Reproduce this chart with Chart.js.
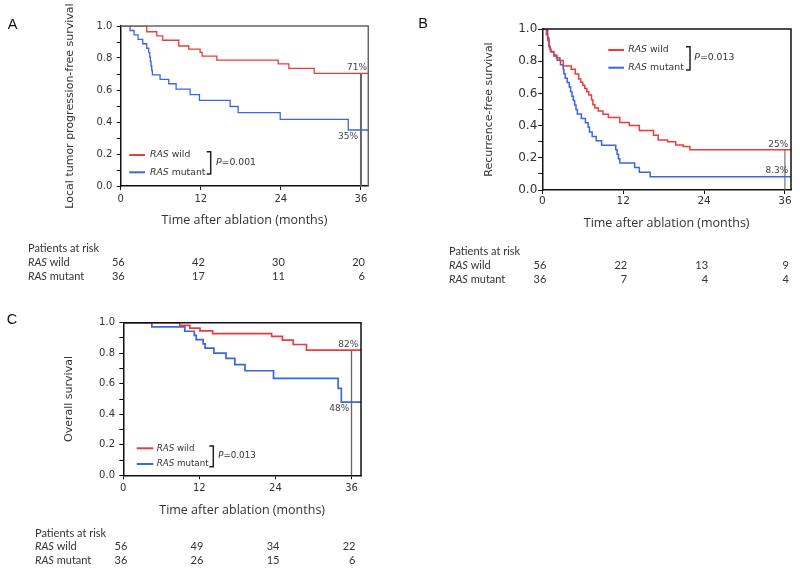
<!DOCTYPE html>
<html>
<head>
<meta charset="utf-8">
<script src="https://cdn.jsdelivr.net/npm/chart.js@4.4.1/dist/chart.umd.min.js"></script>
<style>
  html, body { margin: 0; padding: 0; background: #fff; }
  #wrap { position: relative; width: 800px; height: 571px; }
  canvas { position: absolute; }
</style>
</head>
<body>
<div id="wrap">
  <canvas id="chartA" width="400" height="300" style="left:0;top:0"></canvas>
  <canvas id="chartB" width="400" height="300" style="left:400px;top:0"></canvas>
  <canvas id="chartC" width="400" height="271" style="left:0;top:300px"></canvas>
</div>
<script>
// time points (months) and Kaplan-Meier survival after each step
const aWildTime = [0, 3.9, 5.4, 6.3, 8.7, 10.2, 11.9, 12.2, 14.4, 23.6, 25.2, 29.0, 37.1];
const aWildSurv = [1, 0.964, 0.938, 0.911, 0.875, 0.855, 0.835, 0.812, 0.787, 0.763, 0.735, 0.704, 0.704];
const aMutTime = [0, 1.4, 2.0, 2.6, 3.3, 3.9, 4.2, 4.35, 4.45, 4.55, 4.65, 4.75, 5.9, 7.2, 8.3, 10.4, 11.8, 16.4, 17.6, 23.9, 34.1, 37.1];
const aMutSurv = [1, 0.972, 0.944, 0.917, 0.889, 0.861, 0.833, 0.806, 0.778, 0.75, 0.722, 0.694, 0.667, 0.639, 0.606, 0.571, 0.535, 0.497, 0.459, 0.417, 0.35, 0.35];

const bWildTime = [0, 0.6, 0.8, 1.0, 1.15, 1.3, 1.7, 2.1, 2.6, 3.1, 4.3, 4.9, 5.4, 5.7, 6.0, 6.3, 6.6, 6.9, 7.3, 7.5, 7.8, 8.3, 9.0, 9.8, 11.5, 12.9, 14.4, 16.5, 17.2, 18.6, 19.8, 20.9, 21.9, 36.9];
const bWildSurv = [1, 0.964, 0.929, 0.893, 0.875, 0.857, 0.839, 0.821, 0.804, 0.77, 0.75, 0.72, 0.69, 0.67, 0.65, 0.63, 0.61, 0.59, 0.56, 0.53, 0.51, 0.49, 0.47, 0.45, 0.42, 0.40, 0.37, 0.34, 0.31, 0.30, 0.28, 0.27, 0.25, 0.25];
const bMutTime = [0, 0.8, 1.0, 1.2, 1.7, 2.2, 2.7, 3.1, 3.2, 3.4, 3.7, 4.0, 4.2, 4.4, 4.6, 4.8, 5.0, 5.2, 5.8, 6.4, 6.8, 7.0, 7.4, 8.0, 8.8, 10.9, 11.1, 11.3, 11.5, 13.7, 14.4, 16.0, 36.9];
const bMutSurv = [1, 0.944, 0.889, 0.861, 0.833, 0.806, 0.778, 0.75, 0.722, 0.694, 0.667, 0.639, 0.611, 0.583, 0.556, 0.528, 0.50, 0.472, 0.444, 0.417, 0.389, 0.361, 0.333, 0.306, 0.278, 0.25, 0.222, 0.194, 0.167, 0.139, 0.111, 0.083, 0.083];

const cWildTime = [0, 8.9, 10.5, 12.1, 14.1, 23.4, 25.1, 26.8, 28.9, 37.5];
const cWildSurv = [1, 0.982, 0.964, 0.946, 0.929, 0.911, 0.886, 0.857, 0.82, 0.82];
const cMutTime = [0, 4.5, 9.7, 11.2, 11.5, 12.6, 12.9, 14.3, 16.2, 17.6, 19.2, 23.7, 33.9, 34.4, 37.5];
const cMutSurv = [1, 0.972, 0.944, 0.917, 0.889, 0.861, 0.833, 0.80, 0.766, 0.725, 0.685, 0.635, 0.57, 0.48, 0.48];

// patients at risk, read at the x ticks
const riskTimes = [0, 12, 24, 36];
const aRiskWild = [56, 42, 30, 20];
const aRiskMut = [36, 17, 11, 6];
const bRiskWild = [56, 22, 13, 9];
const bRiskMut = [36, 7, 4, 4];
const cRiskWild = [56, 49, 34, 22];
const cRiskMut = [36, 26, 15, 6];

const yTicks = [0, 0.1, 0.2, 0.3, 0.4, 0.5, 0.6, 0.7, 0.8, 0.9, 1.0];

const RED = '#ec3b3b';
const BLUE = '#3d63e6';
const SANS = "'DejaVu Sans', sans-serif";
const CAL = "Lato, 'Open Sans', sans-serif";
const TITLE = "'Open Sans', Lato, sans-serif";

const steps = (times, surv) => times.map((t, i) => ({x: t, y: surv[i]}));

function richText(ctx, x, y, parts, size, family) {
    ctx.textAlign = 'left';
    for (const [txt, italic] of parts) {
        ctx.font = (italic ? 'italic ' : '') + size + 'px ' + family;
        ctx.fillText(txt, x, y);
        x += ctx.measureText(txt).width;
    }
}

function extras(p) {
    return {
        id: 'km-extras',
        afterDraw(chart) {
            const {ctx, chartArea: a, scales: {x, y}} = chart;
            ctx.save();
            // top/right frame
            ctx.strokeStyle = p.frameColor;
            ctx.lineWidth = 1.5;
            ctx.beginPath();
            ctx.moveTo(a.left, a.top);
            ctx.lineTo(a.right, a.top);
            ctx.lineTo(a.right, a.bottom);
            ctx.stroke();

            // survival at 36 months
            ctx.fillStyle = '#444';
            ctx.font = '9px ' + SANS;
            ctx.textAlign = 'right';
            ctx.textBaseline = 'middle';
            p.pct.forEach(l => ctx.fillText(l.text, a.right + l.dx, y.getPixelForValue(l.value) + l.dy));

            // legend + bracket + p value
            const g = p.legend;
            ctx.lineWidth = 2;
            ctx.strokeStyle = RED;
            ctx.beginPath(); ctx.moveTo(g.lx1, g.yW); ctx.lineTo(g.lx2, g.yW); ctx.stroke();
            ctx.strokeStyle = BLUE;
            ctx.beginPath(); ctx.moveTo(g.lx1, g.yM); ctx.lineTo(g.lx2, g.yM); ctx.stroke();
            ctx.fillStyle = '#333';
            richText(ctx, g.tx, g.yW, [['RAS', true], [' wild', false]], p.legendSize, SANS);
            richText(ctx, g.tx, g.yM, [['RAS', true], [' mutant', false]], p.legendSize, SANS);
            ctx.strokeStyle = '#222';
            ctx.lineWidth = 1.5;
            ctx.beginPath();
            ctx.moveTo(g.bx - 4, g.bTop); ctx.lineTo(g.bx, g.bTop);
            ctx.lineTo(g.bx, g.bBot); ctx.lineTo(g.bx - 4, g.bBot);
            ctx.stroke();
            richText(ctx, g.px, g.py, [['P', true], ['=' + p.pValue, false]], p.legendSize, SANS);

            // patients at risk table
            const r = p.risk;
            ctx.fillStyle = '#333';
            ctx.textAlign = 'left';
            ctx.font = '11px ' + CAL;
            ctx.fillText('Patients at risk', r.x, r.rows[0]);
            richText(ctx, r.x, r.rows[1], [['RAS', true], [' wild', false]], 11, CAL);
            richText(ctx, r.x, r.rows[2], [['RAS', true], [' mutant', false]], 11, CAL);
            ctx.font = '11px ' + CAL;
            ctx.textAlign = 'right';
            riskTimes.forEach((t, i) => {
                const px = x.getPixelForValue(t) + 4;
                ctx.fillText(String(p.riskWild[i]), px, r.rows[1]);
                ctx.fillText(String(p.riskMut[i]), px, r.rows[2]);
            });

            // panel letter
            ctx.fillStyle = '#111';
            ctx.textAlign = 'center';
            ctx.font = '14.5px "Liberation Sans", sans-serif';
            ctx.fillText(p.letter, p.letterPos[0], p.letterPos[1]);
            ctx.restore();
        }
    };
}

function makePanel(p) {
    const canvas = document.getElementById(p.id);
    const W = canvas.width, H = canvas.height;
    const xAxisBottom = p.xTitleY + 10;
    new Chart(canvas, {
        type: 'line',
        data: {
            datasets: [
                {data: steps(p.wildT, p.wildS), borderColor: RED, borderWidth: p.lineWidth, stepped: true},
                {data: steps(p.mutT, p.mutS), borderColor: BLUE, borderWidth: p.lineWidth, stepped: true},
                {data: [{x: 36, y: 0}, {x: 36, y: p.landmark}], borderColor: p.landmarkColor, borderWidth: p.landmarkWidth}
            ]
        },
        options: {
            responsive: false,
            animation: false,
            devicePixelRatio: 1,
            layout: {padding: {left: 0, top: p.area.top, right: W - p.area.right, bottom: H - xAxisBottom}},
            elements: {point: {radius: 0}, line: {tension: 0, fill: false}},
            plugins: {legend: {display: false}, tooltip: {enabled: false}},
            scales: {
                x: {
                    type: 'linear', min: 0, max: p.xMax,
                    afterFit: s => { s.height = xAxisBottom - p.area.bottom; },
                    afterBuildTicks: s => { s.ticks = riskTimes.map(v => ({value: v})); },
                    grid: {drawOnChartArea: false, tickLength: 4, color: '#111'},
                    border: {color: '#111', width: 1.5},
                    ticks: {font: {family: SANS, size: p.xTickSize}, color: '#333', padding: p.xTickPad, maxRotation: 0, autoSkip: false},
                    title: {display: true, text: 'Time after ablation (months)', color: '#333',
                            font: {family: TITLE, size: 12.5}, padding: {top: 0, bottom: 10 - 7.5}}
                },
                y: {
                    type: 'linear', min: 0, max: 1,
                    afterFit: s => { s.width = p.area.left; },
                    afterBuildTicks: s => { s.ticks = yTicks.map(v => ({value: v})); },
                    grid: {drawOnChartArea: false, tickLength: 4, color: '#111'},
                    border: {color: '#111', width: 1.5},
                    ticks: {font: {family: SANS, size: p.yTickSize}, color: '#333', padding: p.yTickPad, autoSkip: false,
                            callback: v => Math.round(v * 10) % 2 === 0 ? v.toFixed(1) : ''},
                    title: {display: true, text: p.yTitle, color: '#333',
                            font: {family: SANS, size: 11}, padding: {top: p.yTitleX - 6.6, bottom: 0}}
                }
            }
        },
        plugins: [extras(p)]
    });
}

makePanel({
    id: 'chartA', letter: 'A', letterPos: [12.7, 25],
    yTitle: 'Local tumor progression-free survival',
    wildT: aWildTime, wildS: aWildSurv, mutT: aMutTime, mutS: aMutSurv,
    riskWild: aRiskWild, riskMut: aRiskMut, pValue: '0.001',
    landmark: 0.704, landmarkColor: '#666', landmarkWidth: 2, frameColor: '#666', lineWidth: 1.3,
    xMax: 37.1, area: {left: 120.7, right: 368.3, top: 26, bottom: 186},
    yTitleX: 70, xTitleY: 220,
    xTickSize: 10, xTickPad: 3.5, yTickSize: 10, yTickPad: 4.4, legendSize: 9.3,
    pct: [{text: '71%', value: 0.704, dx: -1.3, dy: -6}, {text: '35%', value: 0.35, dx: -10.3, dy: 7}],
    legend: {lx1: 129.3, lx2: 145, tx: 150, yW: 155, yM: 172.3, bx: 210.7, bTop: 151.7, bBot: 174, px: 216, py: 162.5},
    risk: {x: 28, rows: [248, 262, 276]}
});

makePanel({
    id: 'chartB', letter: 'B', letterPos: [23, 24],
    yTitle: 'Recurrence-free survival',
    wildT: bWildTime, wildS: bWildSurv, mutT: bMutTime, mutS: bMutSurv,
    riskWild: bRiskWild, riskMut: bRiskMut, pValue: '0.013',
    landmark: 0.25, landmarkColor: '#555', landmarkWidth: 1, frameColor: '#111', lineWidth: 1.5,
    xMax: 36.9, area: {left: 142.3, right: 391, top: 29, bottom: 190},
    yTitleX: 89, xTitleY: 223,
    xTickSize: 10.5, xTickPad: 1.4, yTickSize: 12, yTickPad: 1, legendSize: 9.3,
    pct: [{text: '25%', value: 0.25, dx: -2.7, dy: -5.5}, {text: '8.3%', value: 0.083, dx: -2.7, dy: -6}],
    legend: {lx1: 208.3, lx2: 224, tx: 228.3, yW: 50, yM: 67.7, bx: 290, bTop: 46.7, bBot: 70, px: 294.3, py: 57.3},
    risk: {x: 49, rows: [251, 265, 279]}
});

makePanel({
    id: 'chartC', letter: 'C', letterPos: [12, 20],
    yTitle: 'Overall survival',
    wildT: cWildTime, wildS: cWildSurv, mutT: cMutTime, mutS: cMutSurv,
    riskWild: cRiskWild, riskMut: cRiskMut, pValue: '0.013',
    landmark: 0.82, landmarkColor: '#666', landmarkWidth: 1.3, frameColor: '#111', lineWidth: 1.7,
    xMax: 37.5, area: {left: 123.3, right: 361, top: 22.7, bottom: 175.3},
    yTitleX: 69.5, xTitleY: 210.7,
    xTickSize: 10, xTickPad: 3.5, yTickSize: 10, yTickPad: 4.3, legendSize: 8.7,
    pct: [{text: '82%', value: 0.82, dx: -2.7, dy: -6}, {text: '48%', value: 0.48, dx: -11.7, dy: 7}],
    legend: {lx1: 136.7, lx2: 153.3, tx: 156.7, yW: 148.3, yM: 164, bx: 213.3, bTop: 146, bBot: 166.7, px: 218.3, py: 156},
    risk: {x: 35, rows: [233, 246.7, 260]}
});
</script>
</body>
</html>
